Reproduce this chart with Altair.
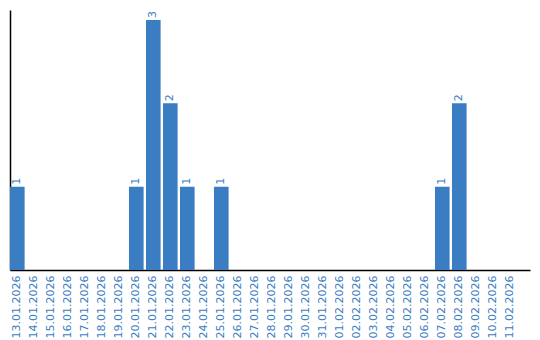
import altair as alt
import pandas as pd

dates = ["13.01.2026", "14.01.2026", "15.01.2026", "16.01.2026", "17.01.2026",
         "18.01.2026", "19.01.2026", "20.01.2026", "21.01.2026", "22.01.2026",
         "23.01.2026", "24.01.2026", "25.01.2026", "26.01.2026", "27.01.2026",
         "28.01.2026", "29.01.2026", "30.01.2026", "31.01.2026", "01.02.2026",
         "02.02.2026", "03.02.2026", "04.02.2026", "05.02.2026", "06.02.2026",
         "07.02.2026", "08.02.2026", "09.02.2026", "10.02.2026", "11.02.2026"]
counts = [1, 0, 0, 0, 0, 0, 0, 1, 3, 2, 1, 0, 1, 0, 0,
          0, 0, 0, 0, 0, 0, 0, 0, 0, 0, 1, 2, 0, 0, 0]

df = pd.DataFrame({"date": dates, "count": counts})
BLUE = "#3a7dc2"

x = alt.X("date:N", sort=dates, title=None,
          scale=alt.Scale(paddingInner=0.14, paddingOuter=0.365, align=0),
          axis=alt.Axis(labelAngle=-90, labelColor=BLUE, labelFont="DejaVu Sans",
                        labelFontSize=11, ticks=False, labelPadding=5,
                        domainColor="black", domainWidth=1.5, labelOverlap=False))
y = alt.Y("count:Q", title=None, scale=alt.Scale(domain=[0, 3.12], nice=False),
          axis=alt.Axis(labels=False, ticks=False, grid=False, domainColor="black",
                        domainWidth=1.5))

bars = alt.Chart(df).mark_bar(color=BLUE).encode(x=x, y=y)
labels = alt.Chart(df).transform_filter("datum.count > 0").mark_text(
    angle=270, align="left", baseline="middle", dx=2, color=BLUE,
    font="DejaVu Sans", fontSize=11
).encode(x=alt.X("date:N", sort=dates), y="count:Q", text="count:Q")

chart = (bars + labels).properties(
    width=520, height=260,
    autosize=alt.AutoSizeParams(type="none"),
    padding={"left": 10, "top": 10, "right": 10, "bottom": 70},
).configure_view(stroke=None).configure_axis(grid=False)

chart.save("out.html", embed_options={"renderer": "svg", "actions": False})
